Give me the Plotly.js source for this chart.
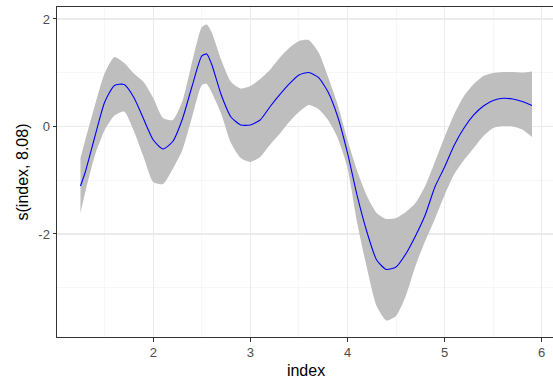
<!DOCTYPE html>
<html>
<head>
<meta charset="utf-8">
<script src="https://cdn.plot.ly/plotly-3.0.1.min.js"></script>
<style>
html,body{margin:0;padding:0;overflow:hidden;background:#fff;}
#chart{width:555px;height:385px;}
</style>
</head>
<body>
<div id="chart"></div>
<script>
const indexX = [1.25,1.3,1.4,1.5,1.6,1.7,1.8,1.9,2.0,2.1,2.2,2.3,2.4,2.5,2.55,2.6,2.7,2.8,2.9,3.0,3.1,3.2,3.3,3.4,3.5,3.6,3.7,3.8,3.9,4.0,4.1,4.2,4.3,4.4,4.5,4.6,4.7,4.8,4.9,5.0,5.1,5.2,5.3,5.4,5.5,5.6,5.7,5.8,5.9];
const fitY = [-1.107,-0.847,-0.177,0.456,0.763,0.781,0.540,0.140,-0.251,-0.419,-0.279,0.140,0.753,1.312,1.349,1.163,0.586,0.177,0.028,0.028,0.121,0.363,0.586,0.791,0.958,1.005,0.912,0.642,0.177,-0.493,-1.293,-1.963,-2.484,-2.660,-2.614,-2.372,-2.037,-1.647,-1.126,-0.753,-0.344,-0.028,0.214,0.381,0.484,0.525,0.512,0.465,0.391];
const upperY = [-0.586,-0.251,0.400,0.995,1.293,1.181,0.986,0.828,0.530,0.158,0.121,0.474,1.200,1.851,1.898,1.758,1.237,0.828,0.707,0.753,0.884,1.051,1.274,1.460,1.591,1.609,1.386,0.921,0.400,-0.251,-0.828,-1.293,-1.609,-1.721,-1.702,-1.591,-1.423,-1.107,-0.660,-0.195,0.233,0.567,0.791,0.940,0.995,1.014,1.014,1.005,1.023];
const lowerY = [-1.609,-1.219,-0.530,-0.065,0.205,0.279,-0.084,-0.567,-1.033,-1.070,-0.791,-0.437,0.177,0.772,0.791,0.642,0.233,-0.307,-0.586,-0.660,-0.567,-0.344,-0.140,0.084,0.270,0.400,0.326,0.121,-0.214,-0.772,-1.795,-2.633,-3.340,-3.609,-3.526,-3.153,-2.595,-2.130,-1.721,-1.274,-0.884,-0.623,-0.400,-0.177,-0.028,0.009,0.000,-0.056,-0.195];
const xTicks = [2,3,4,5,6];
const yTicks = [-2,0,2];

const traces = [
  {x: indexX, y: lowerY, type:'scatter', mode:'lines', line:{width:0, color:'#bebebe', shape:'spline', smoothing:0.6}, hoverinfo:'skip', showlegend:false},
  {x: indexX, y: upperY, type:'scatter', mode:'lines', fill:'tonexty', fillcolor:'#bebebe', line:{width:0, color:'#bebebe', shape:'spline', smoothing:0.6}, hoverinfo:'skip', showlegend:false},
  {x: indexX, y: fitY, type:'scatter', mode:'lines', line:{width:1.1, color:'#0000ff', shape:'spline', smoothing:0.6}, showlegend:false}
];

const tickFont = {family:'"Liberation Sans", Arial, sans-serif', size:13, color:'#4d4d4d'};
const titleFont = {family:'"Liberation Sans", Arial, sans-serif', size:16, color:'#000000'};

const layout = {
  width:555, height:385,
  margin:{l:57, r:0, t:7, b:48, pad:0},
  paper_bgcolor:'#ffffff', plot_bgcolor:'#ffffff',
  showlegend:false,
  xaxis:{
    range:[1.0083, 6.137], autorange:false,
    tickvals:xTicks, ticktext:xTicks.map(String),
    ticks:'outside', ticklen:3.5, tickwidth:1, tickcolor:'#333333',
    tickfont:tickFont,
    showgrid:true, gridcolor:'#ebebeb', gridwidth:1.1,
    minor:{dtick:0.5, tick0:0, showgrid:true, gridcolor:'#f2f2f2', gridwidth:0.6, ticks:''},
    zeroline:false,
    showline:true, linecolor:'#333333', linewidth:1, mirror:true,
    title:{text:'index', font:titleFont, standoff:5},
    automargin:false
  },
  yaxis:{
    range:[-3.917, 2.223], autorange:false,
    tickvals:yTicks, ticktext:yTicks.map(String),
    ticks:'outside', ticklen:3.5, tickwidth:1, tickcolor:'#333333',
    tickfont:tickFont,
    showgrid:true, gridcolor:'#ebebeb', gridwidth:1.1,
    minor:{dtick:1, tick0:0, showgrid:true, gridcolor:'#f2f2f2', gridwidth:0.6, ticks:''},
    zeroline:false,
    showline:true, linecolor:'#333333', linewidth:1, mirror:true,
    title:{text:'s(index, 8.08)', font:titleFont, standoff:5},
    automargin:false
  }
};

Plotly.newPlot('chart', traces, layout, {displayModeBar:false, staticPlot:true});
</script>
</body>
</html>
